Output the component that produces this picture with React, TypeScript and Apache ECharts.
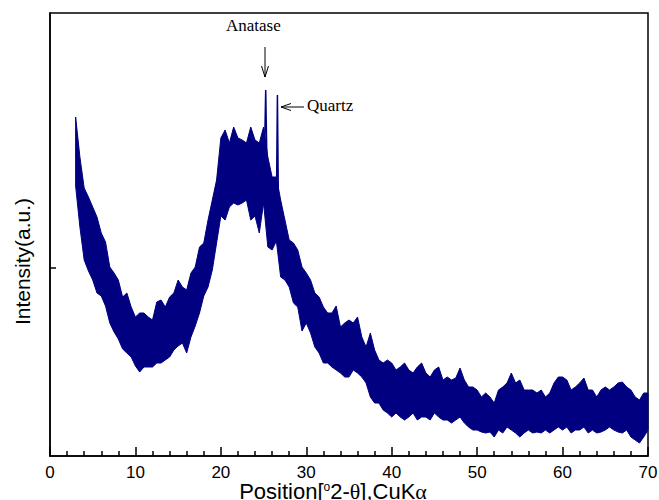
import React, { useEffect, useRef } from "react";
import * as echarts from "echarts";

// XRD pattern: upper and lower envelope of the noisy trace,
// sampled every 0.5° (2θ) from 3° to 70°.
const startAngle = 3;
const stepAngle = 0.5;
const upper = [
  339, 299, 268, 259, 249, 239, 223, 214, 189, 183, 176, 159, 163, 149, 139, 143, 143, 139, 136, 154,
  156, 149, 159, 163, 176, 169, 166, 183, 189, 209, 213, 236, 256, 276, 318, 326, 313, 329, 318, 316,
  313, 329, 316, 313, 329, 299, 279, 279, 256, 236, 216, 213, 206, 189, 183, 176, 163, 159, 149, 143,
  143, 150, 129, 133, 136, 133, 139, 119, 109, 123, 106, 96, 93, 96, 93, 86, 89, 93, 86, 83,
  89, 93, 83, 79, 86, 89, 76, 79, 76, 78, 88, 76, 69, 69, 66, 59, 63, 59, 53, 66,
  69, 73, 83, 73, 76, 66, 66, 66, 63, 66, 59, 63, 73, 79, 79, 76, 66, 69, 73, 78,
  66, 66, 59, 66, 69, 66, 69, 73, 74, 69, 66, 59, 56, 63, 63,
];
const lower = [
  270, 229, 196, 185, 176, 163, 160, 150, 133, 124, 117, 107, 103, 99, 90, 84, 89, 89, 89, 93,
  93, 96, 99, 106, 110, 113, 103, 119, 130, 143, 160, 169, 186, 213, 240, 236, 249, 253, 251, 253,
  256, 236, 240, 223, 253, 209, 206, 215, 179, 176, 169, 153, 149, 125, 133, 123, 109, 103, 93, 93,
  89, 86, 83, 79, 79, 86, 83, 79, 73, 59, 53, 53, 46, 43, 39, 43, 39, 36, 39, 43,
  36, 39, 39, 36, 43, 39, 36, 36, 33, 36, 39, 33, 29, 26, 26, 24, 23, 24, 19, 26,
  23, 29, 26, 23, 19, 23, 26, 23, 24, 23, 26, 23, 26, 29, 26, 29, 23, 26, 26, 29,
  23, 26, 23, 24, 26, 29, 26, 24, 23, 26, 19, 16, 13, 19, 26,
];
// Sharp reflections: [2θ, intensity]
const anatasePeak = [
  [25.1, 300],
  [25.25, 366],
  [25.4, 290],
];
const quartzPeak = [
  [26.5, 250],
  [26.62, 361],
  [26.75, 240],
];
const xTicks = [0, 10, 20, 30, 40, 50, 60, 70];
const yTickValue = 188;

const NAVY = "#000080";

export default function App() {
  const ref = useRef<HTMLDivElement>(null);
  useEffect(() => {
    if (!ref.current) return;
    const chart = echarts.init(ref.current, undefined, { renderer: "svg" });
    const angles = upper.map((_, i) => startAngle + i * stepAngle);
    const bandData = angles.map((a, i) => [a, upper[i], lower[i]]);
    const peaks = [...anatasePeak, [null, null], ...quartzPeak];

    chart.setOption({
      animation: false,
      backgroundColor: "#fff",
      grid: {
        left: 50,
        right: 11,
        top: 13,
        bottom: 44,
        outerBoundsMode: "none",
        containLabel: false,
        show: true,
        borderColor: "#000",
        borderWidth: 1.5,
        backgroundColor: "transparent",
      },
      xAxis: {
        type: "value",
        z: 10,
        min: xTicks[0],
        max: xTicks[xTicks.length - 1],
        interval: 10,
        name: "{a|Position[}{s|o}{a|2-}{g|θ}{a|],CuK}{g|α}",
        nameLocation: "middle",
        nameGap: 25,
        nameMoveOverlap: false,
        nameTextStyle: {
          padding: [0, 32, 0, 0],
          rich: {
            a: { fontFamily: "Liberation Sans", fontSize: 22, color: "#000", lineHeight: 20 },
            s: { fontFamily: "Liberation Sans", fontSize: 12, color: "#000", verticalAlign: "top", lineHeight: 10 },
            g: { fontFamily: "Liberation Serif", fontSize: 22, color: "#000", lineHeight: 20 },
          },
        },
        axisLine: { show: true, lineStyle: { color: "#000", width: 1.5 } },
        axisTick: { show: true, inside: true, length: 9, lineStyle: { color: "#000", width: 1.5 } },
        minorTick: { show: true, splitNumber: 5, length: 5, lineStyle: { color: "#000", width: 1.5 } },
        axisLabel: { fontFamily: "Liberation Sans", fontSize: 17, lineHeight: 15, color: "#000", margin: 9 },
        splitLine: { show: false },
      },
      yAxis: {
        type: "value",
        z: 10,
        min: 0,
        max: 443,
        name: "Intensity(a.u.)",
        nameLocation: "middle",
        nameGap: 17,
        nameMoveOverlap: false,
        nameTextStyle: {
          fontFamily: "Liberation Sans",
          fontSize: 21,
          color: "#000",
          padding: [0, 54, 0, 0],
        },
        axisLine: { show: true, lineStyle: { color: "#000", width: 1.5 } },
        axisTick: {
          show: true,
          inside: true,
          length: 6,
          customValues: [yTickValue],
          lineStyle: { color: "#000", width: 1.5 },
        },
        axisLabel: { show: false },
        splitLine: { show: false },
      },
      graphic: [
        {
          type: "text",
          left: 226,
          top: 17,
          style: { text: "Anatase", fontFamily: "Liberation Serif", fontSize: 17, fill: "#000" },
        },
        { type: "line", shape: { x1: 265, y1: 47, x2: 265, y2: 77 }, style: { stroke: "#000", lineWidth: 1 } },
        {
          type: "polyline",
          shape: { points: [[261.5, 66], [265, 77], [268.5, 66]] },
          style: { stroke: "#000", lineWidth: 1, fill: null },
        },
        { type: "line", shape: { x1: 281, y1: 107, x2: 304, y2: 107 }, style: { stroke: "#000", lineWidth: 1 } },
        {
          type: "polyline",
          shape: { points: [[291, 103.5], [281, 107], [291, 110.5]] },
          style: { stroke: "#000", lineWidth: 1, fill: null },
        },
        {
          type: "text",
          left: 307,
          top: 97,
          style: { text: "Quartz", fontFamily: "Liberation Serif", fontSize: 17, fill: "#000" },
        },
      ],
      series: [
        {
          name: "band",
          type: "custom",
          data: bandData,
          encode: { x: 0, y: [1, 2] },
          z: 2,
          renderItem: (params: any, api: any) => {
            if (params.dataIndex !== 0) return null;
            const top = bandData.map((d) => api.coord([d[0], d[1]]));
            const bottom = bandData.map((d) => api.coord([d[0], d[2]])).reverse();
            return {
              type: "polygon",
              shape: { points: top.concat(bottom) },
              style: { fill: NAVY, stroke: NAVY, lineWidth: 1 },
            };
          },
        },
        {
          name: "peaks",
          type: "line",
          data: peaks,
          showSymbol: false,
          z: 4,
          connectNulls: false,
          lineStyle: { color: NAVY, width: 1.5 },
        },
      ],
    });
    return () => chart.dispose();
  }, []);
  return <div ref={ref} style={{ position: "fixed", left: 0, top: 0, width: 659, height: 500 }} />;
}
